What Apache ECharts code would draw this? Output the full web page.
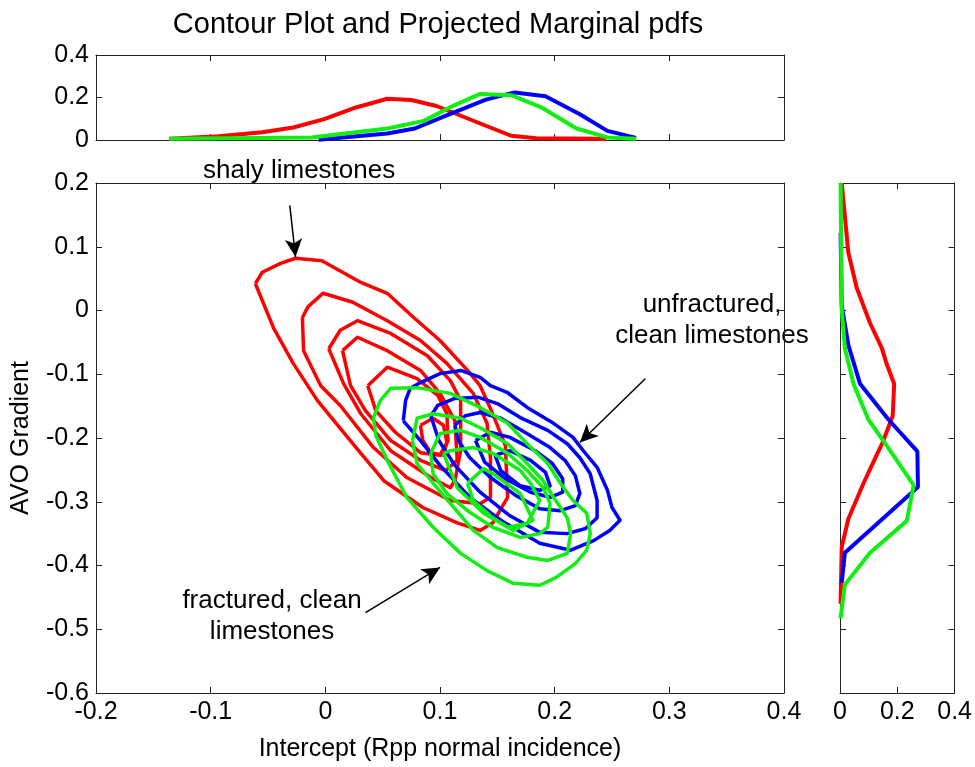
<!DOCTYPE html>
<html>
<head>
<meta charset="utf-8">
<script src="https://cdn.jsdelivr.net/npm/echarts@6/dist/echarts.min.js"></script>
<style>
html, body { margin: 0; padding: 0; background: #fff; }
#chart { width: 975px; height: 767px; }
</style>
</head>
<body>
<div id="chart"></div>
<script>
var chartDom = document.getElementById('chart');
var myChart = echarts.init(chartDom);
var option;

// top marginal pdfs: [intercept, pdf]
var topRed = [[-0.136, 0.006], [-0.093, 0.018], [-0.055, 0.036], [-0.028, 0.059], [-0.001, 0.098], [0.026, 0.152], [0.054, 0.194], [0.075, 0.188], [0.097, 0.16], [0.14, 0.067], [0.162, 0.02], [0.184, 0.008], [0.238, 0.006], [0.245, 0.004]];
var topBlue = [[-0.006, 0.001], [0.032, 0.02], [0.054, 0.031], [0.078, 0.054], [0.108, 0.121], [0.14, 0.19], [0.165, 0.224], [0.192, 0.206], [0.222, 0.121], [0.246, 0.043], [0.271, 0.01]];
var topGreen = [[-0.136, 0.006], [-0.012, 0.012], [0.054, 0.054], [0.086, 0.09], [0.108, 0.152], [0.135, 0.217], [0.162, 0.211], [0.189, 0.152], [0.219, 0.054], [0.246, 0.012], [0.271, 0.006]];

// right marginal pdfs: [pdf, gradient]
var sideRed = [[0.006, 0.2], [0.029, 0.091], [0.058, 0.036], [0.105, -0.02], [0.146, -0.059], [0.163, -0.084], [0.189, -0.115], [0.184, -0.165], [0.17, -0.182], [0.146, -0.21], [0.134, -0.221], [0.082, -0.271], [0.029, -0.327], [0.006, -0.371], [0.002, -0.46]];
var sideBlue = [[0.002, 0.122], [0.006, 0.008], [0.029, -0.054], [0.07, -0.115], [0.169, -0.171], [0.27, -0.221], [0.272, -0.277], [0.017, -0.38], [0.006, -0.427]];
var sideGreen = [[0.002, 0.2], [0.006, 0.002], [0.017, -0.059], [0.047, -0.115], [0.099, -0.171], [0.163, -0.212], [0.257, -0.274], [0.233, -0.33], [0.105, -0.38], [0.017, -0.43], [0.002, -0.483]];

// contour polylines: [intercept, gradient]
var red1 = [[-0.061, 0.042], [-0.055, 0.060], [-0.039, 0.074], [-0.026, 0.082], [-0.003, 0.078], [0.031, 0.044], [0.054, 0.027], [0.077, -0.011], [0.100, -0.047], [0.124, -0.094], [0.135, -0.118], [0.146, -0.162], [0.157, -0.212], [0.159, -0.293], [0.146, -0.333], [0.135, -0.345], [0.115, -0.333], [0.085, -0.309], [0.051, -0.267], [0.031, -0.224], [0.013, -0.185], [-0.007, -0.141], [-0.028, -0.083], [-0.045, -0.028]];
var red2 = [[-0.020, -0.011], [-0.015, 0.006], [-0.002, 0.027], [0.024, 0.013], [0.054, -0.016], [0.083, -0.047], [0.106, -0.083], [0.129, -0.130], [0.141, -0.177], [0.144, -0.231], [0.144, -0.293], [0.135, -0.303], [0.109, -0.298], [0.071, -0.262], [0.042, -0.215], [0.013, -0.149], [-0.004, -0.118], [-0.019, -0.063]];
var red3 = [[0.003, -0.060], [0.013, -0.031], [0.028, -0.016], [0.057, -0.036], [0.089, -0.071], [0.109, -0.110], [0.118, -0.141], [0.118, -0.220], [0.113, -0.267], [0.109, -0.278], [0.092, -0.262], [0.057, -0.220], [0.031, -0.162], [0.016, -0.115]];
var red4 = [[0.015, -0.063], [0.028, -0.042], [0.054, -0.063], [0.083, -0.094], [0.100, -0.130], [0.113, -0.173], [0.115, -0.235], [0.105, -0.251], [0.083, -0.235], [0.057, -0.204], [0.035, -0.157], [0.022, -0.118]];
var red5 = [[0.037, -0.118], [0.054, -0.089], [0.080, -0.107], [0.098, -0.133], [0.106, -0.162], [0.107, -0.204], [0.100, -0.227], [0.083, -0.223], [0.061, -0.191], [0.044, -0.157]];
var red6 = [[0.083, -0.180], [0.094, -0.169], [0.103, -0.180], [0.106, -0.207], [0.103, -0.227], [0.092, -0.223], [0.085, -0.204]];

var blue1 = [[0.068, -0.173], [0.070, -0.141], [0.074, -0.122], [0.083, -0.113], [0.100, -0.099], [0.118, -0.094], [0.135, -0.105], [0.144, -0.118], [0.159, -0.129], [0.176, -0.152], [0.199, -0.177], [0.216, -0.199], [0.225, -0.220], [0.237, -0.246], [0.246, -0.282], [0.250, -0.309], [0.257, -0.329], [0.248, -0.345], [0.234, -0.361], [0.214, -0.376], [0.187, -0.365], [0.153, -0.329], [0.126, -0.293], [0.100, -0.243], [0.083, -0.204]];
var blue2 = [[0.092, -0.165], [0.098, -0.149], [0.113, -0.138], [0.133, -0.136], [0.150, -0.146], [0.170, -0.168], [0.194, -0.188], [0.211, -0.209], [0.222, -0.231], [0.231, -0.256], [0.237, -0.298], [0.237, -0.325], [0.227, -0.342], [0.211, -0.350], [0.187, -0.348], [0.161, -0.322], [0.135, -0.285], [0.113, -0.243], [0.099, -0.204]];
var blue3 = [[0.113, -0.180], [0.122, -0.165], [0.135, -0.160], [0.153, -0.169], [0.174, -0.191], [0.196, -0.215], [0.209, -0.235], [0.218, -0.259], [0.222, -0.287], [0.218, -0.306], [0.205, -0.314], [0.187, -0.311], [0.166, -0.290], [0.144, -0.262], [0.126, -0.231], [0.116, -0.204]];
var blue4 = [[0.131, -0.204], [0.144, -0.191], [0.161, -0.199], [0.183, -0.220], [0.198, -0.240], [0.207, -0.264], [0.207, -0.285], [0.196, -0.293], [0.179, -0.285], [0.157, -0.264], [0.139, -0.238]];
var blue5 = [[0.148, -0.227], [0.161, -0.220], [0.179, -0.235], [0.192, -0.254], [0.196, -0.275], [0.187, -0.282], [0.170, -0.275], [0.153, -0.251]];

var green1 = [[0.042, -0.168], [0.048, -0.141], [0.057, -0.122], [0.080, -0.121], [0.109, -0.130], [0.135, -0.152], [0.159, -0.177], [0.176, -0.209], [0.194, -0.240], [0.205, -0.271], [0.216, -0.298], [0.228, -0.318], [0.231, -0.350], [0.228, -0.376], [0.218, -0.397], [0.201, -0.419], [0.187, -0.431], [0.164, -0.428], [0.141, -0.408], [0.118, -0.381], [0.094, -0.340], [0.071, -0.293], [0.054, -0.235], [0.044, -0.196]];
var green2 = [[0.076, -0.204], [0.080, -0.169], [0.094, -0.162], [0.118, -0.169], [0.135, -0.184], [0.159, -0.209], [0.176, -0.240], [0.190, -0.267], [0.199, -0.293], [0.211, -0.325], [0.214, -0.350], [0.211, -0.381], [0.194, -0.392], [0.176, -0.387], [0.150, -0.372], [0.129, -0.345], [0.112, -0.309], [0.094, -0.271], [0.080, -0.240]];
var green3 = [[0.092, -0.224], [0.100, -0.193], [0.118, -0.188], [0.135, -0.199], [0.159, -0.224], [0.176, -0.251], [0.190, -0.278], [0.196, -0.303], [0.194, -0.340], [0.187, -0.350], [0.170, -0.356], [0.146, -0.340], [0.124, -0.314], [0.106, -0.287], [0.094, -0.256]];
var green4 = [[0.103, -0.224], [0.109, -0.220], [0.129, -0.215], [0.146, -0.224], [0.170, -0.251], [0.179, -0.271], [0.187, -0.298], [0.176, -0.334], [0.159, -0.340], [0.138, -0.318], [0.115, -0.278]];
var green5 = [[0.124, -0.271], [0.138, -0.248], [0.146, -0.256], [0.170, -0.287], [0.181, -0.329], [0.164, -0.345], [0.146, -0.325], [0.129, -0.298]];

// arrows: [from, to] in data coords
var arrowShaly = [[-0.031, 0.165], [-0.026, 0.084]];
var arrowUnfrac = [[0.279, -0.107], [0.222, -0.207]];
var arrowFrac = [[0.035, -0.474], [0.100, -0.403]];

var RED = '#ff0000', BLUE = '#0000ff', GREEN = '#11ee11';
var FONT = 'Liberation Sans, Arial, sans-serif';

function closeLoop(pts) {
  return pts.concat([pts[0]]);
}

// box axis in MATLAB style, ticks inside
function makeAxis(grid, pos, min, max, step, labels) {
  return {
    type: 'value',
    gridIndex: grid,
    position: pos,
    min: min,
    max: max,
    interval: step,
    axisLine: { show: true, onZero: false, lineStyle: { color: '#222', width: 1 } },
    axisTick: { show: true, inside: true, length: 6, lineStyle: { color: '#222' } },
    splitLine: { show: false },
    axisLabel: { show: labels, color: '#000', fontSize: 25, fontFamily: FONT, margin: 7 }
  };
}

function contour(pts, color) {
  return {
    type: 'line',
    xAxisIndex: 2,
    yAxisIndex: 2,
    data: closeLoop(pts),
    showSymbol: false,
    symbol: 'none',
    lineStyle: { color: color, width: 3.5, join: 'round' },
    animation: false,
    silent: true
  };
}

function pdfLine(pts, color, xi, yi) {
  return {
    type: 'line',
    xAxisIndex: xi,
    yAxisIndex: yi,
    data: pts,
    showSymbol: false,
    symbol: 'none',
    lineStyle: { color: color, width: 4 },
    animation: false,
    silent: true
  };
}

var xTop = makeAxis(0, 'bottom', -0.2, 0.4, 0.1, false);
var xTop2 = makeAxis(0, 'top', -0.2, 0.4, 0.1, false);
var yTop = makeAxis(0, 'left', 0, 0.4, 0.2, true);
var yTop2 = makeAxis(0, 'right', 0, 0.4, 0.2, false);

var xSide = makeAxis(1, 'bottom', 0, 0.4, 0.2, true);
var xSide2 = makeAxis(1, 'top', 0, 0.4, 0.2, false);
var ySide = makeAxis(1, 'left', -0.6, 0.2, 0.1, false);
var ySide2 = makeAxis(1, 'right', -0.6, 0.2, 0.1, false);

var xMain = makeAxis(2, 'bottom', -0.2, 0.4, 0.1, true);
xMain.name = 'Intercept (Rpp normal incidence)';
xMain.nameLocation = 'middle';
xMain.nameGap = 44;
xMain.nameTextStyle = { color: '#000', fontSize: 25, fontFamily: FONT };
var xMain2 = makeAxis(2, 'top', -0.2, 0.4, 0.1, false);
var yMain = makeAxis(2, 'left', -0.6, 0.2, 0.1, true);
yMain.name = 'AVO Gradient';
yMain.nameLocation = 'middle';
yMain.nameGap = 62;
yMain.nameRotate = 90;
yMain.nameTextStyle = { color: '#000', fontSize: 25, fontFamily: FONT };
var yMain2 = makeAxis(2, 'right', -0.6, 0.2, 0.1, false);

var series = [
  pdfLine(topRed, RED, 0, 0),
  pdfLine(topBlue, BLUE, 0, 0),
  pdfLine(topGreen, GREEN, 0, 0),
  pdfLine(sideRed, RED, 1, 1),
  pdfLine(sideBlue, BLUE, 1, 1),
  pdfLine(sideGreen, GREEN, 1, 1)
];
[red1, red2, red3, red4, red5, red6].forEach(function (c) { series.push(contour(c, RED)); });
[blue1, blue2, blue3, blue4, blue5].forEach(function (c) { series.push(contour(c, BLUE)); });
[green1, green2, green3, green4, green5].forEach(function (c) { series.push(contour(c, GREEN)); });

// annotation arrows
series.push({
  type: 'line',
  xAxisIndex: 2,
  yAxisIndex: 2,
  data: [],
  animation: false,
  markLine: {
    silent: true,
    animation: false,
    symbol: ['none', 'arrow'],
    symbolSize: [13, 18],
    label: { show: false },
    lineStyle: { color: '#000', width: 1.5, type: 'solid' },
    data: [arrowShaly, arrowUnfrac, arrowFrac].map(function (a) {
      return [{ coord: a[0] }, { coord: a[1] }];
    })
  }
});

option = {
  backgroundColor: '#fff',
  animation: false,
  title: {
    text: 'Contour Plot and Projected Marginal pdfs',
    left: 433,
    top: 5,
    textAlign: 'center',
    textStyle: { color: '#000', fontSize: 29, fontWeight: 'normal', fontFamily: FONT }
  },
  grid: [
    { left: 96, top: 55, width: 688, height: 85 },
    { left: 840, top: 183, width: 115, height: 510 },
    { left: 96, top: 183, width: 688, height: 510 }
  ],
  xAxis: [xTop, xSide, xMain, xTop2, xSide2, xMain2],
  yAxis: [yTop, ySide, yMain, yTop2, ySide2, yMain2],
  graphic: [
    { type: 'text', left: 203, top: 158, style: { text: 'shaly limestones', fontSize: 26, fontFamily: FONT, fill: '#000' } },
    { type: 'text', x: 712, y: 289, style: { text: 'unfractured,\nclean limestones', fontSize: 26, lineHeight: 31, align: 'center', fontFamily: FONT, fill: '#000' } },
    { type: 'text', x: 272, y: 585, style: { text: 'fractured, clean\nlimestones', fontSize: 26, lineHeight: 31, align: 'center', fontFamily: FONT, fill: '#000' } }
  ],
  series: series
};

option && myChart.setOption(option);
</script>
</body>
</html>
